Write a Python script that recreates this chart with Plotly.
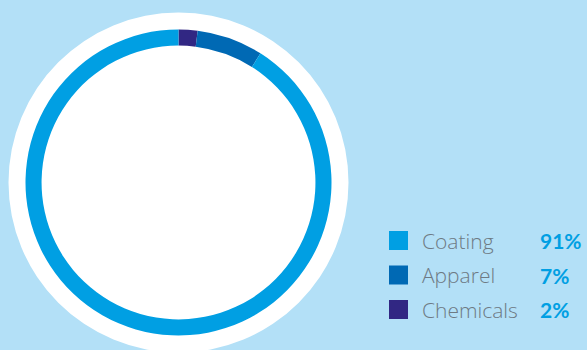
import plotly.graph_objects as go

# Data
categories = ["Coating", "Apparel", "Chemicals"]
values = [91, 7, 2]
colors = ["#009fe3", "#0069b4", "#312783"]

W, H = 587, 350
cx, cy = 178.5, 182.5
r_ring = 153
r_white = 170

def px(x):
    return x / W

def py(y):
    return 1 - y / H

# Pie draws clockwise from 12 o'clock: Chemicals, Apparel, Coating
pie_labels = categories[::-1]
pie_values = values[::-1]
pie_colors = colors[::-1]

fig = go.Figure()
fig.add_trace(go.Pie(
    labels=pie_labels,
    values=pie_values,
    marker=dict(colors=pie_colors, line=dict(width=0)),
    hole=0.895,
    sort=False,
    direction="clockwise",
    rotation=0,
    textinfo="none",
    hoverinfo="label+percent",
    showlegend=False,
    domain=dict(x=[px(cx - r_ring), px(cx + r_ring)],
                y=[py(cy + r_ring), py(cy - r_ring)]),
))

shapes = [dict(type="circle", xref="paper", yref="paper", layer="below",
               x0=px(cx - r_white), x1=px(cx + r_white),
               y0=py(cy + r_white), y1=py(cy - r_white),
               fillcolor="white", line=dict(width=0))]

annotations = []
row_y = [240.5, 275, 309.5]
for i, (cat, val, col) in enumerate(zip(categories, values, colors)):
    yc = row_y[i]
    shapes.append(dict(type="rect", xref="paper", yref="paper",
                       x0=px(389), x1=px(408), y0=py(yc + 9.5), y1=py(yc - 9.5),
                       fillcolor=col, line=dict(width=0)))
    annotations.append(dict(x=px(420), y=py(yc), xref="paper", yref="paper",
                            text=cat, showarrow=False, xanchor="left", yanchor="middle",
                            font=dict(family="Open Sans", size=21, weight=300, color="#6e7a84")))
    annotations.append(dict(x=px(538), y=py(yc), xref="paper", yref="paper",
                            text=f"<b>{val}%</b>", showarrow=False, xanchor="left", yanchor="middle",
                            font=dict(family="Lato", size=21, color="#009fe3")))

fig.update_layout(
    width=W, height=H,
    margin=dict(l=0, r=0, t=0, b=0),
    paper_bgcolor="#b3e0f7",
    plot_bgcolor="#b3e0f7",
    shapes=shapes,
    annotations=annotations,
    showlegend=False,
)

fig.write_html("out.html")
